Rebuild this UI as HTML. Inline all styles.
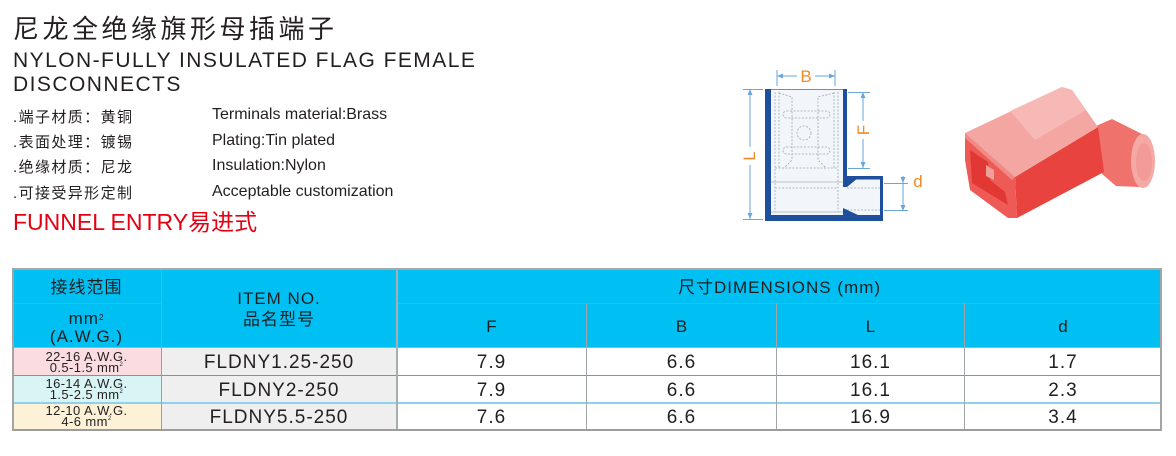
<!DOCTYPE html>
<html>
<head>
<meta charset="utf-8">
<style>
  html,body{margin:0;padding:0;background:#fff;}
  body{width:1176px;height:456px;position:relative;overflow:hidden;
       font-family:"Liberation Sans","Noto Sans CJK SC",sans-serif;color:#231f20;}
  .a{position:absolute;white-space:nowrap;}
  .c{position:absolute;display:flex;align-items:center;justify-content:center;white-space:nowrap;text-align:center;}
  .bg{position:absolute;}
</style>
</head>
<body>

<!-- Heading texts -->
<div class="a" style="left:13px;top:16px;font-size:26px;line-height:26px;letter-spacing:3.5px;">尼龙全绝缘旗形母插端子</div>
<div class="a" style="left:13px;top:50px;font-size:21px;line-height:21px;letter-spacing:1.45px;">NYLON-FULLY INSULATED FLAG FEMALE</div>
<div class="a" style="left:13px;top:74px;font-size:21px;line-height:21px;letter-spacing:1.45px;">DISCONNECTS</div>

<div class="a" style="left:13px;top:110px;font-size:15px;line-height:15px;letter-spacing:1.4px;">.端子材质：黄铜</div>
<div class="a" style="left:13px;top:135px;font-size:15px;line-height:15px;letter-spacing:1.4px;">.表面处理：镀锡</div>
<div class="a" style="left:13px;top:160px;font-size:15px;line-height:15px;letter-spacing:1.4px;">.绝缘材质：尼龙</div>
<div class="a" style="left:13px;top:185.5px;font-size:15px;line-height:15px;letter-spacing:1.4px;">.可接受异形定制</div>

<div class="a" style="left:212px;top:107px;font-size:16px;line-height:16px;">Terminals material:Brass</div>
<div class="a" style="left:212px;top:132.5px;font-size:16px;line-height:16px;">Plating:Tin plated</div>
<div class="a" style="left:212px;top:158px;font-size:16px;line-height:16px;">Insulation:Nylon</div>
<div class="a" style="left:212px;top:184px;font-size:16px;line-height:16px;">Acceptable customization</div>

<div class="a" style="left:13px;top:210.5px;font-size:23px;line-height:23px;color:#e50012;">FUNNEL ENTRY易进式</div>

<!-- Drawings -->
<svg class="a" style="left:0;top:0;" width="1176" height="456" viewBox="0 0 1176 456" xmlns="http://www.w3.org/2000/svg">
  <!-- technical drawing -->
  <rect x="765" y="89" width="82" height="132" fill="#f2f6fb"/>
  <rect x="847" y="176" width="36" height="45" fill="#f2f6fb"/>
  <line x1="765" y1="89.5" x2="847" y2="89.5" stroke="#8a8a8a" stroke-width="1"/>
  <g fill="none" stroke="#9ea6b0" stroke-width="0.8" stroke-dasharray="2,1.5">
    <line x1="775" y1="92" x2="775" y2="212"/>
    <line x1="838" y1="92" x2="838" y2="212"/>
    <line x1="779" y1="92" x2="779" y2="168"/>
    <line x1="834" y1="92" x2="834" y2="168"/>
    <path d="M779,93 L792,97 L792,160 L784,168"/>
    <path d="M834,93 L818,97 L818,160 L826,168"/>
    <rect x="783" y="111" width="47" height="7" rx="3.5"/>
    <rect x="783" y="147" width="47" height="7" rx="3.5"/>
    <circle cx="804" cy="133" r="7"/>
    <line x1="775" y1="168" x2="838" y2="168"/>
    <line x1="775" y1="188" x2="838" y2="188"/>
    <line x1="847" y1="188" x2="881" y2="188"/>
    <line x1="847" y1="210" x2="881" y2="210"/>
  </g>
  <line x1="771" y1="182" x2="843" y2="182" stroke="#aab2bb" stroke-width="0.8"/>
  <line x1="771" y1="212" x2="843" y2="212" stroke="#aab2bb" stroke-width="0.8"/>
  <rect x="765" y="89" width="6" height="132" fill="#1d4f9c"/>
  <rect x="765" y="215" width="118" height="6" fill="#1d4f9c"/>
  <rect x="843" y="89" width="4" height="90" fill="#1d4f9c"/>
  <rect x="843" y="176" width="40" height="3.5" fill="#1d4f9c"/>
  <rect x="880" y="176" width="3" height="45" fill="#1d4f9c"/>
  <polygon points="843,178 858,178 847,187 843,187" fill="#1d4f9c"/>
  <polygon points="843,208 858,215 843,216" fill="#1d4f9c"/>
  <g stroke="#6aa6d8" stroke-width="1" fill="none">
    <line x1="750" y1="89" x2="750" y2="219"/>
    <line x1="743" y1="89.5" x2="763" y2="89.5"/>
    <line x1="743" y1="219.5" x2="763" y2="219.5"/>
    <line x1="777" y1="70" x2="777" y2="86"/>
    <line x1="835" y1="70" x2="835" y2="86"/>
    <line x1="777" y1="76" x2="835" y2="76"/>
    <line x1="848" y1="92.5" x2="870" y2="92.5"/>
    <line x1="848" y1="168.5" x2="870" y2="168.5"/>
    <line x1="863" y1="92" x2="863" y2="168"/>
    <line x1="884" y1="183.5" x2="908" y2="183.5"/>
    <line x1="884" y1="210.5" x2="908" y2="210.5"/>
    <line x1="903" y1="176" x2="903" y2="211"/>
  </g>
  <g fill="#6aa6d8">
    <polygon points="750,89 747.5,95 752.5,95"/>
    <polygon points="750,219 747.5,213 752.5,213"/>
    <polygon points="777,76 783,73.5 783,78.5"/>
    <polygon points="835,76 829,73.5 829,78.5"/>
    <polygon points="863,92 860.5,98 865.5,98"/>
    <polygon points="863,168 860.5,162 865.5,162"/>
    <polygon points="903,183 900.5,177 905.5,177"/>
    <polygon points="903,211 900.5,205 905.5,205"/>
  </g>
  <rect x="797" y="68" width="18" height="16" fill="#fff"/>
  <rect x="742" y="147" width="16" height="18" fill="#fff"/>
  <rect x="855" y="121" width="16" height="18" fill="#fff"/>
  <g fill="#ef8a2a" font-family="Liberation Sans, sans-serif" font-size="17">
    <text x="806" y="82" text-anchor="middle">B</text>
    <text x="0" y="0" text-anchor="middle" transform="translate(755,156) rotate(-90)">L</text>
    <text x="0" y="0" text-anchor="middle" transform="translate(869,130) rotate(-90)">F</text>
    <text x="918" y="187" text-anchor="middle">d</text>
  </g>

  <!-- red connector photo -->
  <!-- tube -->
  <polygon points="1096,126 1112,119 1146,136 1140,187 1116,186 1102,174" fill="#ef726d"/>
  <ellipse cx="1143" cy="161" rx="12" ry="27" fill="#f4a9a5"/>
  <ellipse cx="1144" cy="162" rx="8" ry="19" fill="#f29a95"/>
  <!-- side face (front long side) -->
  <polygon points="1015,177 1098,127 1104,172 1017,218" fill="#e8433e"/>
  <!-- mouth end face -->
  <polygon points="965,133 1015,177 1017,218 1008,218 970,190 965,160" fill="#ee5a55"/>
  <polygon points="970,150 988,162 990,180 1005,192 1008,205 972,183" fill="#e23834"/>
  <polygon points="986,165 994,170 994,180 986,176" fill="#f0a09a"/>
  <!-- top face -->
  <polygon points="965,133 1062,87 1072,90 1098,127 1015,177" fill="#f4a7a2"/>
  <polygon points="1010,111 1062,87 1072,90 1086,110 1035,140" fill="#f6b9b5"/>
  <polygon points="965,133 1015,177 1012,180 965,138" fill="#f18a85"/>
</svg>

<!-- Table backgrounds -->
<div class="bg" style="left:12px;top:268px;width:1150px;height:80px;background:#00bff3;"></div>
<div class="bg" style="left:12px;top:348px;width:149px;height:27px;background:#fbdde1;"></div>
<div class="bg" style="left:12px;top:375px;width:149px;height:28px;background:#d8f4f4;"></div>
<div class="bg" style="left:12px;top:403px;width:149px;height:28px;background:#fdf2d7;"></div>
<div class="bg" style="left:161px;top:348px;width:236px;height:83px;background:#efefef;"></div>

<!-- Table lines -->
<div class="bg" style="left:12px;top:303px;width:149px;height:1px;background:#7d9fae;"></div>
<div class="bg" style="left:397px;top:303px;width:765px;height:1px;background:#7d9fae;"></div>
<div class="bg" style="left:12px;top:347px;width:1150px;height:1px;background:#98b4c0;"></div>
<div class="bg" style="left:12px;top:375px;width:1150px;height:1px;background:#4aa3db;"></div>
<div class="bg" style="left:12px;top:402px;width:1150px;height:2px;background:#8fd0ee;"></div>
<div class="bg" style="left:161px;top:268px;width:1px;height:163px;background:#8ea2ab;"></div>
<div class="bg" style="left:396px;top:268px;width:2px;height:163px;background:#a8adb0;"></div>
<div class="bg" style="left:586px;top:303px;width:1px;height:128px;background:#a0a6a9;"></div>
<div class="bg" style="left:776px;top:303px;width:1px;height:128px;background:#a0a6a9;"></div>
<div class="bg" style="left:964px;top:303px;width:1px;height:128px;background:#a0a6a9;"></div>
<div class="bg" style="left:12px;top:268px;width:1150px;height:2px;background:#a8a8a8;"></div>
<div class="bg" style="left:12px;top:429px;width:1150px;height:2px;background:#9c9c9c;"></div>
<div class="bg" style="left:12px;top:268px;width:2px;height:163px;background:#a4a4a4;"></div>
<div class="bg" style="left:1160px;top:268px;width:2px;height:163px;background:#a4a4a4;"></div>

<!-- Table header text -->
<div class="c" style="left:12px;top:278px;width:149px;height:18px;font-size:17px;line-height:17px;letter-spacing:1px;">接线范围</div>
<div class="c" style="left:12px;top:309px;width:149px;height:18px;font-size:17px;line-height:17px;letter-spacing:1px;">mm<sup style="font-size:8px;line-height:0;vertical-align:9px;">2</sup></div>
<div class="c" style="left:12px;top:327px;width:149px;height:18px;font-size:17px;line-height:17px;letter-spacing:1px;">(A.W.G.)</div>
<div class="c" style="left:161px;top:289px;width:236px;height:18px;font-size:17px;line-height:17px;letter-spacing:1px;">ITEM NO.</div>
<div class="c" style="left:161px;top:310px;width:236px;height:18px;font-size:17px;line-height:17px;letter-spacing:1px;">品名型号</div>
<div class="c" style="left:397px;top:278px;width:765px;height:18px;font-size:17px;line-height:17px;letter-spacing:1px;">尺寸DIMENSIONS (mm)</div>
<div class="c" style="left:397px;top:317px;width:189px;height:18px;font-size:17px;line-height:17px;">F</div>
<div class="c" style="left:587px;top:317px;width:189px;height:18px;font-size:17px;line-height:17px;">B</div>
<div class="c" style="left:777px;top:317px;width:187px;height:18px;font-size:17px;line-height:17px;">L</div>
<div class="c" style="left:965px;top:317px;width:196px;height:18px;font-size:17px;line-height:17px;">d</div>

<!-- Col1 row text -->
<div class="c" style="left:12px;top:350px;width:149px;height:24px;font-size:13px;line-height:11.5px;letter-spacing:0.4px;flex-direction:column;">
  <div>22-16 A.W.G.</div><div>0.5-1.5 mm<sup style="font-size:6px;line-height:0;vertical-align:6px;">2</sup></div>
</div>
<div class="c" style="left:12px;top:377px;width:149px;height:24px;font-size:13px;line-height:11.5px;letter-spacing:0.4px;flex-direction:column;">
  <div>16-14 A.W.G.</div><div>1.5-2.5 mm<sup style="font-size:6px;line-height:0;vertical-align:6px;">2</sup></div>
</div>
<div class="c" style="left:12px;top:404px;width:149px;height:24px;font-size:13px;line-height:11.5px;letter-spacing:0.4px;flex-direction:column;">
  <div>12-10 A.W.G.</div><div>4-6 mm<sup style="font-size:6px;line-height:0;vertical-align:6px;">2</sup></div>
</div>

<!-- Data rows -->
<div class="c" style="left:161px;top:352px;width:236px;height:20px;font-size:19px;line-height:19px;letter-spacing:1px;">FLDNY1.25-250</div>
<div class="c" style="left:161px;top:380px;width:236px;height:20px;font-size:19px;line-height:19px;letter-spacing:1px;">FLDNY2-250</div>
<div class="c" style="left:161px;top:407px;width:236px;height:20px;font-size:19px;line-height:19px;letter-spacing:1px;">FLDNY5.5-250</div>

<div class="c" style="left:397px;top:352px;width:189px;height:20px;font-size:19px;line-height:19px;letter-spacing:1px;">7.9</div>
<div class="c" style="left:587px;top:352px;width:189px;height:20px;font-size:19px;line-height:19px;letter-spacing:1px;">6.6</div>
<div class="c" style="left:777px;top:352px;width:187px;height:20px;font-size:19px;line-height:19px;letter-spacing:1px;">16.1</div>
<div class="c" style="left:965px;top:352px;width:196px;height:20px;font-size:19px;line-height:19px;letter-spacing:1px;">1.7</div>

<div class="c" style="left:397px;top:380px;width:189px;height:20px;font-size:19px;line-height:19px;letter-spacing:1px;">7.9</div>
<div class="c" style="left:587px;top:380px;width:189px;height:20px;font-size:19px;line-height:19px;letter-spacing:1px;">6.6</div>
<div class="c" style="left:777px;top:380px;width:187px;height:20px;font-size:19px;line-height:19px;letter-spacing:1px;">16.1</div>
<div class="c" style="left:965px;top:380px;width:196px;height:20px;font-size:19px;line-height:19px;letter-spacing:1px;">2.3</div>

<div class="c" style="left:397px;top:407px;width:189px;height:20px;font-size:19px;line-height:19px;letter-spacing:1px;">7.6</div>
<div class="c" style="left:587px;top:407px;width:189px;height:20px;font-size:19px;line-height:19px;letter-spacing:1px;">6.6</div>
<div class="c" style="left:777px;top:407px;width:187px;height:20px;font-size:19px;line-height:19px;letter-spacing:1px;">16.9</div>
<div class="c" style="left:965px;top:407px;width:196px;height:20px;font-size:19px;line-height:19px;letter-spacing:1px;">3.4</div>

</body>
</html>
